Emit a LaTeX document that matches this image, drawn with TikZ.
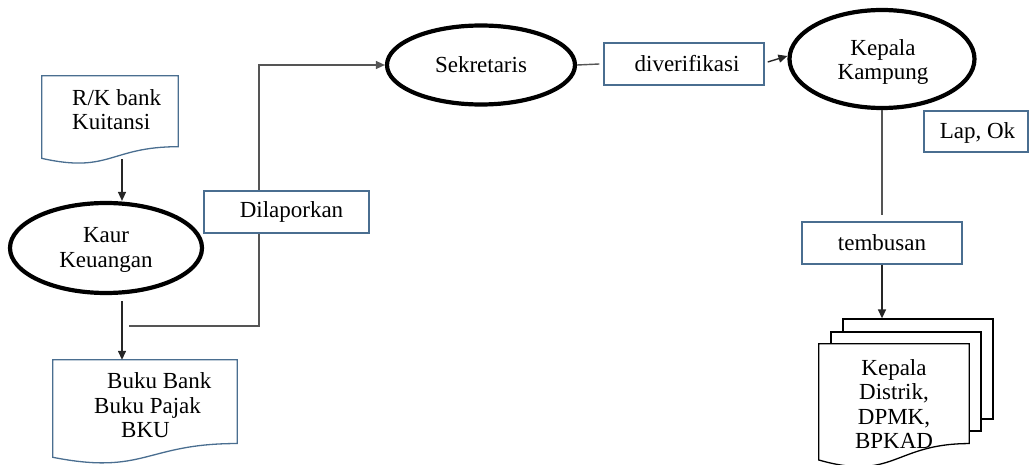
\documentclass[tikz,border=0pt]{standalone}
\usepackage{fontspec}
\setmainfont{Liberation Serif}
\usetikzlibrary{shapes.geometric,arrows.meta,calc}

\definecolor{boxblue}{HTML}{4A6E90}
\definecolor{linegray}{HTML}{555555}

% outline of a flowchart "document" shape fitted to a node's box
\newcommand\docoutline[2]{%
  \draw[#2] let \p1=(#1.north west), \p2=(#1.south east) in
    (\p1) -- (\x2,\y1) -- (\x2,{\y1+0.802*(\y2-\y1)})
    .. controls ({(\x1+\x2)/2},{\y1+0.802*(\y2-\y1)}) and ({(\x1+\x2)/2},{\y1+1.1075*(\y2-\y1)}) ..
    (\x1,{\y1+0.934*(\y2-\y1)}) -- cycle;}

\tikzset{
  every node/.style={font=\fontsize{23}{24.5}\selectfont},
  oval/.style={ellipse, draw=black, line width=4.2pt, inner sep=0pt},
  labelbox/.style={rectangle, draw=boxblue, line width=1.4pt, fill=white, inner sep=0pt},
  docbox/.style={rectangle, draw=none, inner sep=0pt},
  docline/.style={draw=boxblue, line width=1.3pt},
  pageline/.style={draw=black, line width=1.3pt, fill=white},
  txt/.style={inner sep=0pt},
  flow/.style={draw=black!85, line width=1.4pt, -{Triangle[length=9pt,width=8pt]}},
  plain/.style={draw=linegray, line width=1.4pt},
}

\begin{document}
\begin{tikzpicture}[x=1pt, y=-1pt]
\useasboundingbox (0,0) rectangle (1029,465);

% --- left column: receipts, treasurer, books
\node[docbox, minimum width=136pt, minimum height=88pt] (rk) at (110,120) {};
\docoutline{rk}{docline}
\node[txt, align=left, anchor=west] (rktext) at (72,109.5) {R/K bank\\Kuitansi};

\node[oval, minimum width=192pt, minimum height=90pt] (kaur) at (106,248) {};
\node[txt, align=center] (kaurtext) at (106,250) {Kaur\\Keuangan};

\node[docbox, minimum width=184pt, minimum height=104pt] (buku) at (145,412) {};
\docoutline{buku}{docline}
\node[txt, align=left, anchor=west] (bukutext) at (94,405.5)
  {\hspace*{13pt}Buku Bank\\Buku Pajak\\\hspace*{27pt}BKU};

\draw[flow] ([xshift=12pt,yshift=5pt]rk.south) -- ([xshift=16pt]kaur.north);
\draw[flow] ([xshift=16pt,yshift=-6pt]kaur.south) -- ([xshift=-23pt]buku.north);

% --- report line up to the secretary
\node[oval, minimum width=188pt, minimum height=79pt] (sek) at (481,65) {Sekretaris};
\coordinate (rpt) at (129,326);
\coordinate (bend) at (259,65);
\draw[plain, -{Triangle[length=9pt,width=8pt]}] (rpt) -| (bend) -- (sek.west);
\node[labelbox, minimum width=165pt, minimum height=42pt] (dil) at (286.5,212) {\hspace*{10pt}Dilaporkan};

% --- verification by the village head
\node[labelbox, minimum width=160pt, minimum height=42pt] (div) at (684,64) {\hspace*{6pt}diverifikasi};
\node[oval, minimum width=185pt, minimum height=98pt] (kk) at (882,59) {};
\node[txt, align=center] (kktext) at (883,62) {Kepala\\Kampung};
\draw[plain] (sek.east) -- ([xshift=-4pt]div.west);
\draw[flow] ([xshift=3pt,yshift=2pt]div.east) -- ([yshift=3pt]kk.west);

\node[labelbox, minimum width=104pt, minimum height=41pt] (lap) at (976,131.5) {};
\node[txt] (laptext) at (977.5,133) {Lap, Ok};

% --- copies sent onwards
\node[labelbox, minimum width=160pt, minimum height=42pt] (tem) at (882,243) {tembusan};
\draw[plain] (kk.south) -- ([yshift=6pt]tem.north);

\node[rectangle, pageline, minimum width=150pt, minimum height=100pt] (back) at (918,369) {};
\node[rectangle, pageline, minimum width=150pt, minimum height=99pt] (mid) at (906,381.5) {};
\node[docbox, minimum width=150pt, minimum height=124pt] (front) at (894,406) {};
\docoutline{front}{pageline}
\node[txt, align=center] (fronttext) at (894,404) {Kepala\\Distrik,\\DPMK,\\BPKAD};

\draw[flow] (tem.south) -- (tem.south |- back.north);
\end{tikzpicture}
\end{document}
